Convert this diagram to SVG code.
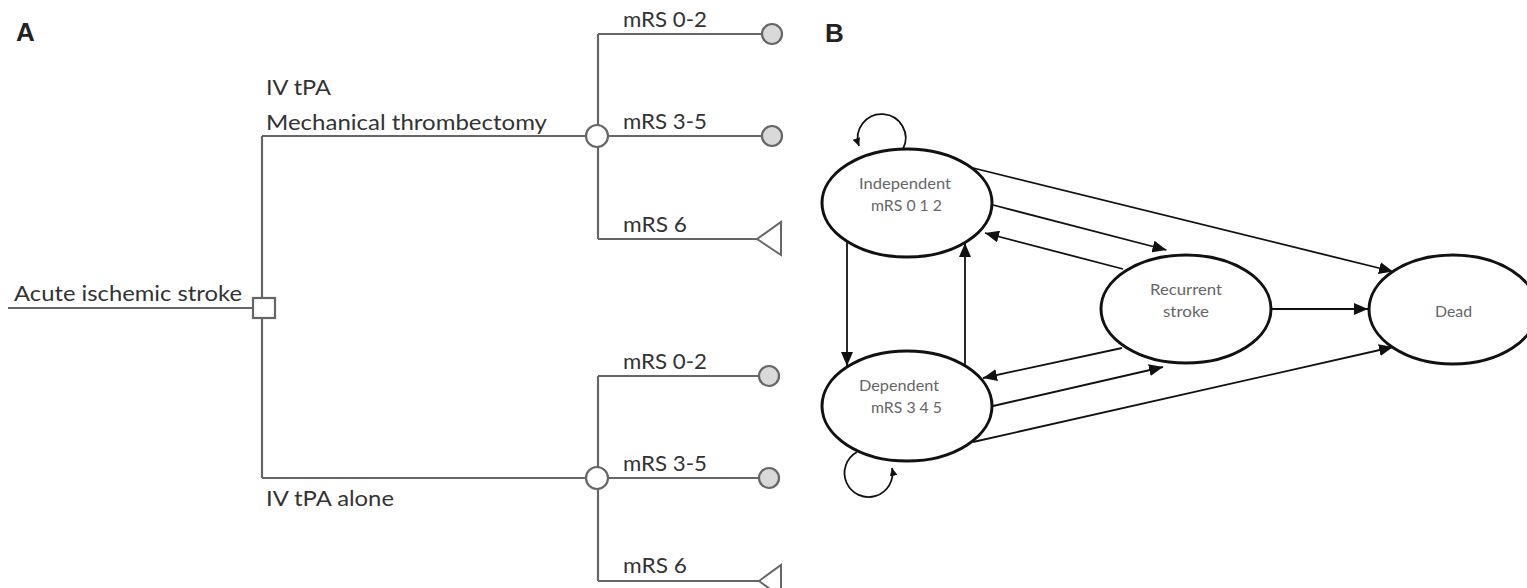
<svg xmlns="http://www.w3.org/2000/svg" width="1527" height="588" viewBox="0 0 1527 588">
<style>
  .lbl { font-family: Lato, "Liberation Sans", sans-serif; font-size: 21px; fill: #333; }
  .pan { font-family: "Liberation Sans", Arial, sans-serif; font-size: 26px; font-weight: bold; fill: #222; }
  .nl { font-family: Lato, "Liberation Sans", sans-serif; font-size: 15px; fill: #666; }
  .tree { stroke: #666; stroke-width: 2.2; fill: none; }
  .chance { fill: #fff; stroke: #666; stroke-width: 2.2; }
  .term { fill: #d9d9d9; stroke: #666; stroke-width: 2.2; }
  .tri { fill: #fff; stroke: #666; stroke-width: 2; }
  .state { fill: #fff; stroke: #111; stroke-width: 3; }
  .edge { stroke: #111; stroke-width: 1.8; fill: none; }
</style>
<defs>
  <marker id="arr" viewBox="0 0 14 12" refX="14" refY="6" markerWidth="14" markerHeight="12" markerUnits="userSpaceOnUse" orient="auto">
    <path d="M0,0 L14,6 L0,12 z" fill="#111"/>
  </marker>
  <marker id="arrs" viewBox="0 0 8 8" refX="8" refY="4" markerWidth="8" markerHeight="8" markerUnits="userSpaceOnUse" orient="auto">
    <path d="M0,0 L8,4 L0,8 z" fill="#111"/>
  </marker>
</defs>
<rect width="1527" height="588" fill="#fff"/>

<text class="pan" x="16" y="41">A</text>
<text class="pan" x="825" y="42">B</text>

<!-- Panel A: decision tree -->
<g id="tree-connectors">
  <path class="tree" d="M8,308 H253"/>
  <path class="tree" d="M262,136 V478"/>
  <path class="tree" d="M262,136 H586"/>
  <path class="tree" d="M262,478 H586"/>
  <path class="tree" d="M598,34 V239"/>
  <path class="tree" d="M598,34 H762"/>
  <path class="tree" d="M608,136 H762"/>
  <path class="tree" d="M598,239 H757"/>
  <path class="tree" d="M598,376 V581"/>
  <path class="tree" d="M598,376 H759"/>
  <path class="tree" d="M608,478 H759"/>
  <path class="tree" d="M598,581 H759"/>
</g>

<g id="decision">
  <rect x="253" y="298" width="22" height="20" fill="#fff" stroke="#666" stroke-width="2.2"/>
  <text class="lbl" x="14" y="300.5" textLength="228" lengthAdjust="spacingAndGlyphs">Acute ischemic stroke</text>
</g>

<g id="arm-mt">
  <text class="lbl" x="266" y="95" textLength="65" lengthAdjust="spacingAndGlyphs">IV tPA</text>
  <text class="lbl" x="266" y="130" textLength="281" lengthAdjust="spacingAndGlyphs">Mechanical thrombectomy</text>
  <circle class="chance" cx="597" cy="136" r="11"/>
</g>
<g id="mt-0-2">
  <text class="lbl" x="623" y="27" textLength="84" lengthAdjust="spacingAndGlyphs">mRS 0-2</text>
  <circle class="term" cx="772" cy="34" r="10"/>
</g>
<g id="mt-3-5">
  <text class="lbl" x="623" y="128.5" textLength="84" lengthAdjust="spacingAndGlyphs">mRS 3-5</text>
  <circle class="term" cx="772" cy="136" r="10"/>
</g>
<g id="mt-6">
  <text class="lbl" x="623" y="232" textLength="64" lengthAdjust="spacingAndGlyphs">mRS 6</text>
  <polygon class="tri" points="757,239 781,222 781,255"/>
</g>

<g id="arm-tpa">
  <text class="lbl" x="266" y="506" textLength="128" lengthAdjust="spacingAndGlyphs">IV tPA alone</text>
  <circle class="chance" cx="597" cy="478" r="11"/>
</g>
<g id="tpa-0-2">
  <text class="lbl" x="623" y="369" textLength="84" lengthAdjust="spacingAndGlyphs">mRS 0-2</text>
  <circle class="term" cx="769" cy="376" r="10"/>
</g>
<g id="tpa-3-5">
  <text class="lbl" x="623" y="471" textLength="84" lengthAdjust="spacingAndGlyphs">mRS 3-5</text>
  <circle class="term" cx="769" cy="478" r="10"/>
</g>
<g id="tpa-6">
  <text class="lbl" x="623" y="573" textLength="64" lengthAdjust="spacingAndGlyphs">mRS 6</text>
  <polygon class="tri" points="759,581 781,565 781,597"/>
</g>

<!-- Panel B: Markov model -->
<g id="markov-connectors">
  <path class="edge" d="M973,168 L1393,271.5" marker-end="url(#arr)"/>
  <path class="edge" d="M993,205 L1166.5,250" marker-end="url(#arr)"/>
  <path class="edge" d="M1123,269 L985,233" marker-end="url(#arr)"/>
  <path class="edge" d="M847,241 V366" marker-end="url(#arr)"/>
  <path class="edge" d="M965,366 V243" marker-end="url(#arr)"/>
  <path class="edge" d="M1271,309 H1368" stroke-width="2.6" marker-end="url(#arr)"/>
  <path class="edge" d="M1122,348 L983,378" marker-end="url(#arr)"/>
  <path class="edge" d="M993,406 L1163,367" marker-end="url(#arr)"/>
  <path class="edge" d="M973,442 L1393,347" marker-end="url(#arr)"/>
  <path class="edge" d="M903,149 A24,24 0 1 0 859,146" marker-end="url(#arrs)"/>
  <path class="edge" d="M857,452 A24,24 0 1 0 892,468" marker-end="url(#arrs)"/>
</g>

<g id="independent">
  <ellipse class="state" cx="907" cy="203" rx="85" ry="54"/>
  <text class="nl" x="859" y="189" textLength="92" lengthAdjust="spacingAndGlyphs">Independent</text>
  <text class="nl" x="871" y="211" textLength="71" lengthAdjust="spacingAndGlyphs">mRS 0 1 2</text>
</g>
<g id="dependent">
  <ellipse class="state" cx="907" cy="406" rx="85" ry="55"/>
  <text class="nl" x="859" y="391" textLength="80" lengthAdjust="spacingAndGlyphs">Dependent</text>
  <text class="nl" x="871" y="413" textLength="71" lengthAdjust="spacingAndGlyphs">mRS 3 4 5</text>
</g>
<g id="recurrent">
  <ellipse class="state" cx="1186" cy="309" rx="85" ry="54"/>
  <text class="nl" x="1150" y="295" textLength="72" lengthAdjust="spacingAndGlyphs">Recurrent</text>
  <text class="nl" x="1163" y="316.5" textLength="46" lengthAdjust="spacingAndGlyphs">stroke</text>
</g>
<g id="dead">
  <ellipse class="state" cx="1453" cy="309.5" rx="84" ry="54.5"/>
  <text class="nl" x="1435" y="316.5" textLength="37" lengthAdjust="spacingAndGlyphs">Dead</text>
</g>
</svg>
